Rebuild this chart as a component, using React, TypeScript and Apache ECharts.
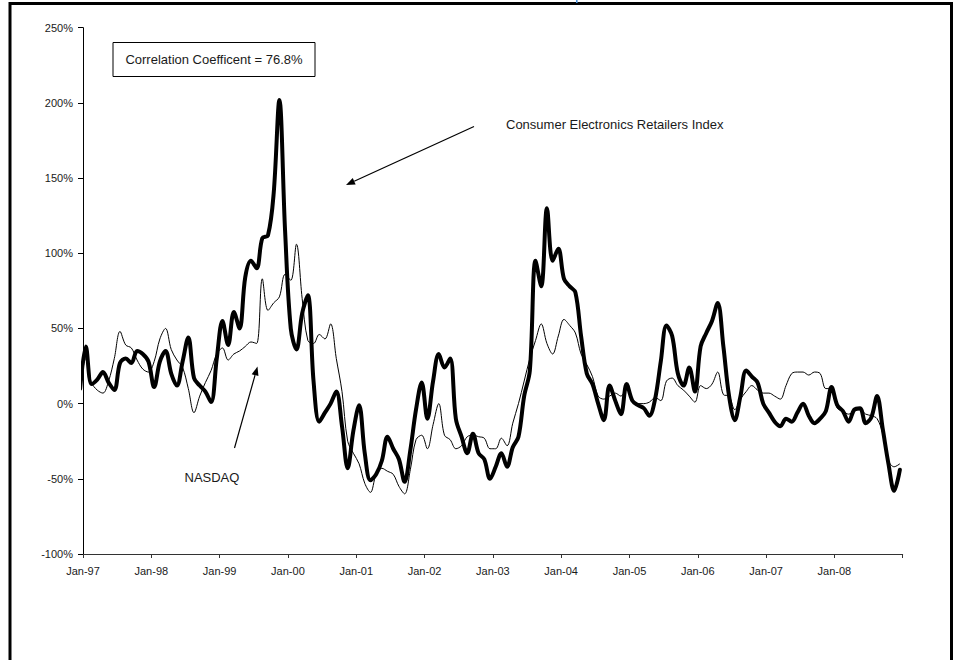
import React, { useEffect, useRef } from "react";
import * as echarts from "echarts";

// Year-over-year change, one value per month from Dec-96 to Dec-08,
// each plotted at the middle of its month (Dec-96 falls left of the axis and is clipped).
const retailersIndex = [
  10, 38, 13, 16, 21, 14, 9, 27, 30, 27, 35, 33, 28,
  11, 28, 35, 20, 12, 28, 44, 17, 12, 8, 1, 30,
  55, 39, 61, 50, 84, 95, 90, 110, 112, 140, 202, 115,
  50, 36, 60, 72, 15, -12, -6, 0, 8, -15, -43, -18,
  -1, -33, -51, -47, -38, -22, -30, -37, -52, -31, -4, 14,
  -10, 15, 33, 24, 30, -10, -22, -33, -20, -33, -37, -50,
  -42, -33, -42, -29, -22, 5, 22, 95, 78, 130, 95, 103,
  83, 78, 74, 45, 20, 13, 0, -11, 12, 2, -7, 13,
  2, -1, -3, -8, 3, 28, 52, 45, 20, 12, 24, 8,
  38, 47, 55, 67, 38, 5, -11, 5, 22, 18, 14, 0,
  -6, -12, -15, -10, -12, -6, 0, -8, -13, -10, -5, 11,
  -1, -5, -12, -4, -3, -13, -9, 5, -17, -40, -58, -44,
];

const nasdaq = [
  10, 30, 14, 9, 7, 15, 30, 48, 39, 37, 29, 23, 21,
  28, 43, 50, 36, 29, 24, 10, -6, 5, 14, 22, 33,
  37, 29, 33, 35, 38, 41, 40, 83, 62, 67, 71, 86,
  82, 106, 70, 42, 40, 46, 43, 53, 30, 8, -25, -33,
  -40, -53, -59, -47, -43, -45, -47, -55, -60, -44, -24, -21,
  -30, -14, 0, -21, -24, -30, -28, -22, -21, -22, -23, -30,
  -30, -23, -28, -13, 0, 15, 30, 42, 53, 40, 33, 45,
  56, 52, 47, 33, 26, 18, 5, 3, 5, 7, 5, 10,
  2, 0, 0, 1, 4, 2, 15, 17, 12, 9, 5, 1,
  12, 10, 13, 21, 6, 5, -4, 3, 8, 12, 9, 7,
  7, 5, 3, 12, 20, 21, 21, 19, 21, 20, 10, 10,
  -3, -5, -7, -5, -4, -7, -8, -10, -20, -38, -42, -40,
];

const yearLabels = [
  "Jan-97", "Jan-98", "Jan-99", "Jan-00", "Jan-01", "Jan-02",
  "Jan-03", "Jan-04", "Jan-05", "Jan-06", "Jan-07", "Jan-08",
];

const Y_MIN = -100;
const Y_MAX = 250;
const Y_STEP = 50;

const FONT = "'Liberation Sans', Arial, sans-serif";
const INK = "#1a1a1a";

// Month index (0 = Jan-97) at mid-month for entry i, whose first entry is Dec-96.
const toPoints = (values: number[]) => values.map((v, i) => [i - 0.5, v]);

function arrow(x1: number, y1: number, x2: number, y2: number) {
  const a = Math.atan2(y2 - y1, x2 - x1);
  const len = 9;
  const hw = 3.5;
  const bx = x2 - len * Math.cos(a);
  const by = y2 - len * Math.sin(a);
  const px = -Math.sin(a) * hw;
  const py = Math.cos(a) * hw;
  return [
    {
      type: "line",
      shape: { x1, y1, x2: bx, y2: by },
      style: { stroke: "#000", lineWidth: 1.2 },
    },
    {
      type: "polygon",
      shape: { points: [[x2, y2], [bx + px, by + py], [bx - px, by - py]] },
      style: { fill: "#000" },
    },
  ];
}

const note = (text: string, x: number, y: number, align: string) => ({
  type: "text",
  silent: true,
  x,
  y,
  style: {
    text,
    fontFamily: FONT,
    fontSize: 13,
    fill: INK,
    align,
    verticalAlign: "middle",
  },
  z: 51,
});

export default function App() {
  const ref = useRef<HTMLDivElement>(null);

  useEffect(() => {
    if (!ref.current) return;
    const chart = echarts.init(ref.current, null, { renderer: "svg" });

    chart.setOption({
      animation: false,
      backgroundColor: "#fff",
      grid: { left: 83, right: 52.3, top: 27.7, bottom: 106 },
      xAxis: {
        type: "value",
        min: 0,
        max: yearLabels.length * 12,
        interval: 12,
        axisLine: { show: true, onZero: false, lineStyle: { color: "#333", width: 1 } },
        axisTick: { show: true, length: 4, lineStyle: { color: "#333" } },
        splitLine: { show: false },
        axisLabel: {
          margin: 11,
          fontFamily: FONT,
          fontSize: 11,
          color: INK,
          formatter: (v: number) => yearLabels[Math.round(v / 12)] ?? "",
        },
      },
      yAxis: {
        type: "value",
        min: Y_MIN,
        max: Y_MAX,
        interval: Y_STEP,
        axisLine: { show: true, lineStyle: { color: "#000", width: 1 } },
        axisTick: { show: true, length: 5, lineStyle: { color: "#000" } },
        splitLine: { show: false },
        axisLabel: {
          margin: 10,
          fontFamily: FONT,
          fontSize: 11,
          color: INK,
          formatter: (v: number) => `${v}%`,
        },
      },
      series: [
        {
          name: "NASDAQ",
          type: "line",
          data: toPoints(nasdaq),
          smooth: 0.35,
          symbol: "none",
          clip: true,
          lineStyle: { color: "#000", width: 1 },
          z: 2,
        },
        {
          name: "Consumer Electronics Retailers Index",
          type: "line",
          data: toPoints(retailersIndex),
          smooth: 0.35,
          symbol: "none",
          clip: true,
          lineStyle: { color: "#000", width: 4, cap: "round", join: "round" },
          z: 3,
        },
      ],
      graphic: [
        {
          type: "rect",
          silent: true,
          shape: { x: 10, y: 3.5, width: 941.5, height: 720 },
          style: { fill: "none", stroke: "#000", lineWidth: 3 },
          z: 100,
        },
        {
          type: "rect",
          silent: true,
          shape: { x: 576, y: 0, width: 1.6, height: 3 },
          style: { fill: "#4a8fd6" },
          z: 101,
        },
        {
          type: "rect",
          silent: true,
          shape: { x: 113, y: 42.5, width: 202, height: 34 },
          style: { fill: "#fff", stroke: "#000", lineWidth: 1 },
          z: 50,
        },
        note("Correlation Coefficent = 76.8%", 214, 59.5, "center"),
        note("Consumer Electronics Retailers Index", 506, 124, "left"),
        note("NASDAQ", 184.5, 477.5, "left"),
        ...arrow(474, 126.5, 346, 185),
        ...arrow(234.5, 448, 257.5, 366.5),
      ],
    });

    return () => chart.dispose();
  }, []);

  return (
    <div
      ref={ref}
      style={{
        position: "fixed",
        left: 0,
        top: 0,
        width: 955,
        height: 660,
        background: "#fff",
      }}
    />
  );
}
